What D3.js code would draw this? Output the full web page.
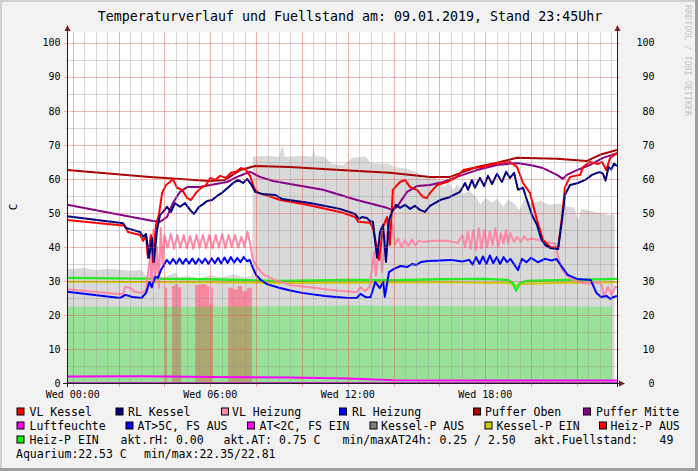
<!DOCTYPE html>
<html><head><meta charset="utf-8">
<script src="https://cdn.jsdelivr.net/npm/d3@7"></script>
<style>body{margin:0;background:#f2f2f2}svg{display:block}text{font-family:"DejaVu Sans Mono",monospace}</style>
</head><body><svg id="c" width="698" height="471"></svg>
<script>
// ---------- DATA (hour of day, value in C) ----------
const titleText = "Temperaturverlauf und Fuellstand am: 09.01.2019, Stand 23:45Uhr";
const yTicks = [0,10,20,30,40,50,60,70,80,90,100];
const xTicks = [0,6,12,18];
const xTickLabels = ["Wed 00:00","Wed 06:00","Wed 12:00","Wed 18:00"];

const vlKessel = [[-0.25,47.9],[2.28,46.2],[2.41,44.4],[2.94,43.5],[3.07,41.8],[3.2,43.2],[3.28,36.8],[3.41,43.5],[3.5,35.6],[3.63,46.5],[3.76,49.4],[3.9,55.9],[4.07,58.2],[4.24,59.1],[4.37,60],[4.55,57.4],[4.77,56.8],[4.99,54.4],[5.16,53.8],[5.38,55.9],[5.6,57.4],[5.82,58.2],[6.0,60.3],[6.21,59.7],[6.43,60.9],[6.69,60.3],[6.9,61.8],[7.12,62.1],[7.34,63.2],[7.56,62.6],[7.74,60.9],[7.91,57.4],[8.09,55.9],[8.39,55.3],[9.05,53.8],[10.22,52.4],[11.66,50.3],[12.32,48.8],[12.45,47.4],[12.97,47.1],[13.1,45.6],[13.37,36.2],[13.54,45.9],[13.71,48.8],[13.84,40.6],[13.97,56.8],[14.28,59.1],[14.5,59.7],[14.72,57.6],[15.02,56.8],[15.28,54.7],[15.46,54.4],[15.59,55.9],[15.9,58.2],[16.33,59.1],[16.77,60.6],[17.03,62.6],[17.47,63.2],[17.9,63.5],[18.21,64.1],[18.65,64.7],[19.08,65],[19.39,63.5],[19.65,58.8],[19.95,55.9],[20.26,47.9],[20.52,42.1],[20.83,40],[21.18,39.7],[21.35,48.8],[21.48,57.6],[21.7,60.6],[22.14,61.2],[22.27,63.5],[22.57,65],[22.92,64.4],[23.1,65],[23.28,62.6],[23.45,66.2],[23.75,67.6]];

const rlKessel = [[-0.25,49.0],[2.2,47.0],[2.32,45.6],[2.94,44.4],[3.07,43.0],[3.2,43.8],[3.33,36.8],[3.46,42.6],[3.54,35.6],[3.68,45],[3.81,49.4],[3.94,50.3],[4.11,51.8],[4.29,50.3],[4.46,52.9],[4.68,51.8],[4.9,52.9],[5.12,50.9],[5.29,49.7],[5.51,51.8],[5.69,52.6],[5.86,53.5],[6.08,53.8],[6.3,55],[6.51,55.9],[6.77,57.4],[7.0,58.8],[7.21,59.7],[7.43,58.8],[7.61,60],[7.78,58.5],[7.96,56.2],[8.26,55.6],[8.83,55.3],[9.13,54.1],[10.35,52.9],[11.66,51.2],[12.32,49.7],[12.49,48.2],[12.62,48.8],[12.84,48.5],[12.97,47.6],[13.1,47.4],[13.28,36.8],[13.41,44.4],[13.54,46.5],[13.67,35.6],[13.8,47.9],[13.93,50.3],[14.1,52.4],[14.28,51.5],[14.5,52.4],[14.72,51.2],[14.93,52.1],[15.15,50.9],[15.37,50.3],[15.59,52.1],[16.03,53.8],[16.46,54.7],[16.9,56.2],[17.12,58.8],[17.25,56.8],[17.42,59.7],[17.55,57.4],[17.77,60.3],[17.95,57.9],[18.12,60.9],[18.3,58.5],[18.51,61.5],[18.73,59.1],[18.91,62.1],[19.08,60.3],[19.26,61.8],[19.43,56.8],[19.65,57.4],[19.82,53.8],[20.04,49.4],[20.26,46.5],[20.43,42.6],[20.61,40.6],[20.83,39.7],[21.18,39.4],[21.35,47.9],[21.48,55.3],[21.7,58.2],[22.05,58.8],[22.36,59.7],[22.66,61.2],[22.88,61.8],[23.01,62],[23.14,61.5],[23.25,59.5],[23.38,63.5],[23.5,62.8],[23.62,64.5],[23.75,63.8]];

const vlHeizung = [[-0.25,27.6],[2.2,26.0],[2.28,28.2],[2.5,28.0],[2.7,26.8],[3.0,26.5],[3.2,27.4],[3.3,33],[3.38,37],[3.45,28],[3.52,45],[3.6,30],[3.68,40],[3.76,28],[3.84,45.6],[3.92,35],[4.0,43.5],[4.14,39.8],[4.28,43.8],[4.42,39.5],[4.56,43.5],[4.7,39.8],[4.84,43.5],[4.98,39.7],[5.12,43.2],[5.26,39.5],[5.4,43.5],[5.54,39.8],[5.68,43.6],[5.82,39.7],[5.96,43.5],[6.1,39.6],[6.24,43.5],[6.38,39.8],[6.52,43.8],[6.66,39.7],[6.8,43.5],[6.94,40],[7.08,43.5],[7.22,39.8],[7.36,43],[7.5,40],[7.62,44.5],[7.74,41],[7.85,36.5],[8.0,34.5],[8.3,32],[8.8,30.3],[9.5,28.8],[10.5,28],[11.5,27.2],[12.4,26.7],[12.55,28.2],[12.75,27],[12.95,28.2],[13.15,38.6],[13.22,31.5],[13.4,41.5],[13.5,32.6],[13.63,42.4],[13.8,46.2],[13.93,47],[14.05,40.5],[14.2,42.5],[14.35,40],[14.5,42],[14.65,40.3],[14.8,42.2],[14.95,40.5],[15.1,41.8],[15.3,41.5],[15.8,41.8],[16.3,41.8],[16.8,41.2],[17.0,43.5],[17.12,40],[17.24,44.5],[17.36,39.5],[17.48,45],[17.6,39],[17.72,45.5],[17.84,39.5],[17.96,45],[18.08,40],[18.2,44.5],[18.32,40.5],[18.44,45.5],[18.56,40],[18.68,44],[18.8,41],[18.9,45],[19.0,41],[19.1,44],[19.25,41.5],[19.4,43],[19.55,41.5],[19.7,43.2],[19.85,42],[20.0,42.5],[20.3,42.1],[20.6,41.5],[20.9,41.2],[21.05,41],[21.15,38],[21.3,34],[21.5,32],[21.8,30.5],[22.2,29.5],[22.6,29.2],[22.95,29.5],[23.08,28.8],[23.18,25.4],[23.36,28.3],[23.52,25.9],[23.67,28.3],[23.75,28.2]];

const rlHeizung = [[-0.25,26.8],[2.07,25.0],[2.3,25.9],[2.6,25.3],[3.0,25.0],[3.2,26.5],[3.35,29.7],[3.45,28.2],[3.6,31.2],[3.72,30.9],[3.85,33.2],[3.98,34.7],[4.1,36.2],[4.24,35],[4.38,36.5],[4.52,35],[4.66,36.6],[4.8,35],[4.94,36.5],[5.08,35.1],[5.22,36.6],[5.36,35],[5.5,36.5],[5.64,35.2],[5.78,36.6],[5.92,35],[6.06,36.7],[6.2,35.2],[6.34,36.8],[6.48,35.1],[6.62,36.9],[6.76,35.3],[6.9,37],[7.04,35.4],[7.18,36.8],[7.32,35.5],[7.46,37],[7.6,35.8],[7.72,36.2],[7.85,34],[8.0,31.8],[8.2,30.3],[8.5,29.0],[9.0,28.0],[9.5,27.2],[10.0,26.5],[11.0,25.6],[12.0,25.0],[12.4,25.0],[12.55,26.2],[12.8,25.2],[13.0,25.3],[13.2,29.7],[13.4,27.9],[13.55,29.7],[13.62,25.3],[13.8,32.6],[14.0,33.5],[14.3,34.4],[14.6,34.1],[14.8,35],[15.0,34.7],[15.2,35.6],[15.5,35.9],[16.0,36],[16.5,36.2],[17.0,35.7],[17.3,36.2],[17.45,34.8],[17.6,37],[17.75,35],[17.9,37.2],[18.05,35],[18.2,37.5],[18.35,35.2],[18.5,37],[18.65,35],[18.8,37],[18.95,35.5],[19.1,36.5],[19.43,33.2],[19.6,36.5],[19.8,35.5],[20.0,36.8],[20.3,35.5],[20.6,36.5],[20.9,36],[21.1,36.5],[21.35,34.1],[21.6,31.8],[22.0,30.6],[22.6,30.3],[22.85,26.5],[23.05,25.3],[23.3,25.6],[23.45,24.7],[23.6,25.3],[23.75,25.6]];

const pufferOben = [[-0.25,62.6],[3.37,60.6],[5.99,59.4],[6.64,59.7],[7.3,62.6],[7.96,63.8],[9.48,63.5],[11.66,62.6],[13.84,61.8],[15.59,60.6],[16.46,60.6],[17.64,63.5],[18.65,65],[19.39,66.2],[21.13,65.9],[22.44,65.3],[23.01,67.1],[23.75,68.5]];

const pufferMitte = [[-0.25,52.4],[3.5,47.6],[3.81,47.4],[4.11,48.8],[4.37,52.9],[4.68,56.2],[4.99,57.6],[5.56,57.6],[6.0,58.2],[6.73,59.1],[7.17,60.6],[7.74,62.1],[8.17,60.6],[8.74,59.4],[9.48,58.5],[10.92,56.8],[12.4,53.8],[13.71,51.5],[13.93,50.9],[14.15,51.8],[14.59,56.2],[15.02,57.9],[15.59,58.2],[16.16,59.1],[16.77,60.6],[17.64,62.6],[18.51,64.1],[19.39,64.7],[19.95,64.1],[20.52,63.2],[21.13,61.2],[21.39,60],[21.56,61.2],[22.0,62.6],[22.57,64.1],[23.14,66.2],[23.75,67.6]];

const luftfeuchte = [[-0.25,1.9],[3,2.0],[6,1.8],[9.5,1.6],[12,1.3],[14,0.8],[18,0.7],[23.75,0.7]];
const atUnter2 = [[-0.25,0],[23.75,0]];
const heizPEin = [[-0.25,30.9],[3,30.7],[6,30.5],[9,30.0],[12,30.3],[14,30.2],[16,30.5],[18,30.6],[19,30.3],[19.2,29.5],[19.35,27.1],[19.5,29.3],[19.8,30],[21,30.2],[23.75,30.6]];
const kesselPEin = [[-0.25,29.8],[3,29.7],[6,29.6],[9,29.4],[12,29.5],[16,29.6],[19,29.4],[19.35,28.6],[19.6,29.1],[21,29.4],[23.75,29.6]];

const fuellstand = [[-0.25,33.5],[0.5,33.8],[1.0,33.2],[1.5,33.6],[2.0,33.4],[2.5,33.0],[3.0,33.3],[3.2,31.5],[4.0,31.2],[4.5,32.5],[4.6,31],[5.0,31.5],[5.5,30.8],[6.0,31.7],[6.5,31],[7.0,32],[7.5,31],[7.83,31.5],[7.86,66.5],[8.5,66.8],[9.0,66.5],[9.15,70],[9.25,66.5],[10.0,66.8],[10.45,66.5],[10.5,69.5],[10.6,66.7],[11.0,66.5],[11.3,64.5],[11.8,64],[12.2,66.2],[12.8,66.5],[13.0,64.7],[13.8,64.5],[14.0,63.5],[14.6,63.0],[15.0,62],[15.3,60.2],[15.6,61],[16.0,59.5],[16.2,57.5],[16.4,59],[16.6,56.8],[16.8,58.5],[17.0,55.5],[17.3,56.5],[17.6,54.7],[17.8,52.5],[18.0,54.5],[18.3,53],[18.5,54.2],[18.8,51.8],[19.0,54],[19.3,52.5],[19.5,50.9],[19.7,54],[20.0,52.8],[20.4,53.5],[20.8,52.4],[21.2,52.8],[21.6,52.0],[21.9,51.5],[22.05,47.9],[22.2,51.3],[22.6,50.5],[23.0,50],[23.4,49.4],[23.65,49.6]];

const heizPAus = [[4.03,28],[4.12,0],[4.33,28.5],[4.45,29],[4.6,28.2],[4.73,0],[5.34,28.8],[5.6,29],[5.85,28.5],[5.95,23],[6.05,28],[6.12,0],[6.78,28],[7.0,27.5],[7.2,28.5],[7.4,27],[7.6,28],[7.82,0]];

const aquarium = [[-0.25,22.5],[6,22.4],[12,22.8],[18,22.6],[23.52,22.5]];

const legendRows = [
  [["VL Kessel","#ff0000"],["RL Kessel","#000080"],["VL Heizung","#ff88a8"],["RL Heizung","#0000ff"],["Puffer Oben","#aa0000"],["Puffer Mitte","#880088"]],
  [["Luftfeuchte","#ff00ff"],["AT>5C, FS AUS","#0000ff"],["AT<2C, FS EIN","#ff00ff"],["Kessel-P AUS","#808080"],["Kessel-P EIN","#cccc00"],["Heiz-P AUS","#ff0000"]],
  [["Heiz-P EIN","#00ff00"]]
];
const legendInfo3 = ["akt.rH: 0.00","akt.AT: 0.75 C","min/maxAT24h: 0.25 / 2.50","akt.Fuellstand:","49"];
const legendInfo4 = ["Aquarium:22.53 C","min/max:22.35/22.81"];

// ---------- LAYOUT ----------
const svg = d3.select("#c");
const L=67, R=617, B=383, T=32;
const x = d3.scaleLinear().domain([-0.25,23.75]).range([L,R]);
const y = d3.scaleLinear().domain([0,103.2]).range([B,T]);

// background + 3D frame
svg.append("rect").attr("width",698).attr("height",471).attr("fill","#f2f2f2");
svg.append("path").attr("d","M0,0H698V471H0Z M2,2V469H696V2Z").attr("fill","#cfcfcf").attr("fill-rule","evenodd");
svg.append("path").attr("d","M698,0V471H0V468H695V0Z").attr("fill","#9e9e9e");
svg.append("rect").attr("x",L).attr("y",T).attr("width",R-L).attr("height",B-T).attr("fill","#ffffff");

const defs = svg.append("defs");
defs.append("clipPath").attr("id","clip").append("rect").attr("x",L).attr("y",T-1).attr("width",R-L).attr("height",B-T+2);
const plot = svg.append("g").attr("clip-path","url(#clip)");

// areas
const area = d3.area().x(d=>x(d[0])).y0(y(0)).y1(d=>y(d[1]));
plot.append("path").datum(fuellstand).attr("d",area).attr("fill","#d9d9d9");
plot.append("path").datum(heizPAus).attr("d",area.curve(d3.curveStepAfter)).attr("fill","#f5879f");
area.curve(d3.curveLinear);
plot.append("path").datum(aquarium).attr("d",area).attr("fill","rgba(0,243,0,0.296)");

// grid
const g = svg.append("g");
const minorX = d3.range(0,23.75,0.5).filter(h=>h%2!==0);
const majorX = d3.range(0,24,2);
g.selectAll(".mx").data(minorX).enter().append("line")
  .attr("x1",d=>Math.round(x(d))+0.5).attr("x2",d=>Math.round(x(d))+0.5).attr("y1",T).attr("y2",B+1)
  .attr("stroke","rgba(143,143,143,0.35)");
[5,15,25,35,45,55,65,75,85,95].forEach(v=>{
  g.append("line").attr("x1",L-1).attr("x2",R+1).attr("y1",Math.round(y(v))+0.5).attr("y2",Math.round(y(v))+0.5)
   .attr("stroke","rgba(143,143,143,0.35)");
});
g.selectAll(".Mx").data(majorX).enter().append("line")
  .attr("x1",d=>Math.round(x(d))+0.5).attr("x2",d=>Math.round(x(d))+0.5).attr("y1",T).attr("y2",B+4)
  .attr("stroke","rgba(222,79,79,0.45)");
yTicks.slice(1).forEach(v=>{
  g.append("line").attr("x1",L-3).attr("x2",R+3).attr("y1",Math.round(y(v))+0.5).attr("y2",Math.round(y(v))+0.5)
   .attr("stroke","rgba(222,79,79,0.4)");
});

// lines
const line = d3.line().x(d=>x(d[0])).y(d=>y(d[1]));
const lineSeries = [
  [kesselPEin,"#cccc00",2],[heizPEin,"#22ee22",2.4],
  [pufferOben,"#aa0000",2],[pufferMitte,"#880088",2],
  [vlHeizung,"#ff88a8",2],[rlHeizung,"#0000ff",2],
  [vlKessel,"#ff0000",2],[rlKessel,"#000080",2],
  [luftfeuchte,"#ff00ff",2],[atUnter2,"#c030c0",2]
];
lineSeries.forEach(([d,c,w])=>{
  plot.append("path").datum(d).attr("d",line).attr("fill","none").attr("stroke",c)
    .attr("stroke-width",w).attr("stroke-linejoin","round");
});

// axes
const ax = svg.append("g");
ax.append("line").attr("x1",L-4).attr("x2",R+4).attr("y1",B+0.5).attr("y2",B+0.5).attr("stroke","#1f1f1f");
ax.append("line").attr("x1",L+0.5).attr("x2",L+0.5).attr("y1",B+4).attr("y2",T-3).attr("stroke","#1f1f1f");
ax.append("line").attr("x1",R+0.5).attr("x2",R+0.5).attr("y1",B+4).attr("y2",T-3).attr("stroke","#1f1f1f");
const arrow = "#801f1f";
[L,R].forEach(px=>{
  ax.append("path").attr("d",`M${px+0.5-3},${T-1}L${px+0.5+3},${T-1}L${px+0.5},${T-7}Z`).attr("fill",arrow);
});
ax.append("path").attr("d",`M${R+2},${B+0.5-3}L${R+2},${B+0.5+3}L${R+8},${B+0.5}Z`).attr("fill",arrow);

// tick labels
svg.selectAll(".yl").data(yTicks).enter().append("text")
  .attr("x",60.5).attr("y",d=>y(d)).attr("dy","0.36em").attr("text-anchor","end")
  .attr("font-size",10).text(d=>d);
svg.selectAll(".yr").data(yTicks).enter().append("text")
  .attr("x",654.5).attr("y",d=>y(d)).attr("dy","0.36em").attr("text-anchor","end")
  .attr("font-size",10).text(d=>d);
svg.selectAll(".xl").data(xTicks).enter().append("text")
  .attr("x",d=>x(d)).attr("y",398).attr("text-anchor","middle")
  .attr("font-size",10).text((d,i)=>xTickLabels[i]);
svg.append("text").attr("transform","translate(17,207) rotate(-90)").attr("text-anchor","middle")
  .attr("font-size",11).text("C");

// title
svg.append("text").attr("x",350).attr("y",21).attr("text-anchor","middle").attr("font-size",13.3).text(titleText);
// watermark
svg.append("text").attr("transform","translate(685,5) rotate(90)").attr("font-size",8.4)
  .attr("fill","#c4c4c4").text("RRDTOOL / TOBI OETIKER");

// legend
const legPos = [
  [[17,29.5],[116,128],[221.5,232],[339.5,352],[473.5,485],[583.5,596]],
  [[17,29.5],[126,137.5],[247.5,259.5],[370,381],[485,496.5],[599.5,610.5]],
  [[17,29.5]]
];
const rowBase = [415.5,429.5,443.5];
const fs = 11.5;
legendRows.forEach((row,ri)=>{
  row.forEach(([label,col],ci)=>{
    const [bx,tx] = legPos[ri][ci];
    svg.append("rect").attr("x",bx).attr("y",rowBase[ri]-7.5).attr("width",7).attr("height",7)
      .attr("fill",col).attr("stroke","#000").attr("stroke-width",1);
    svg.append("text").attr("x",tx).attr("y",rowBase[ri]).attr("font-size",fs).text(label);
  });
});
const info3X = [120.5,223.5,342.5,534,659.5];
legendInfo3.forEach((t,i)=>svg.append("text").attr("x",info3X[i]).attr("y",rowBase[2]).attr("font-size",fs).text(t));
const info4X = [16,144];
legendInfo4.forEach((t,i)=>svg.append("text").attr("x",info4X[i]).attr("y",457.5).attr("font-size",fs).text(t));
</script></body></html>
